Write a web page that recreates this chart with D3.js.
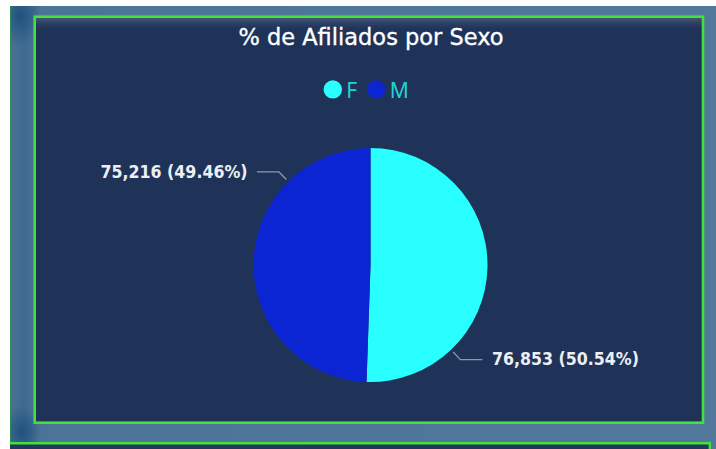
<!DOCTYPE html>
<html>
<head>
<meta charset="utf-8">
<script src="https://cdn.jsdelivr.net/npm/d3@7"></script>
<style>
html,body{margin:0;padding:0;background:#ffffff;}
svg{display:block;}
</style>
</head>
<body>
<svg id="chart" width="716" height="449"></svg>
<script>
// ---- data ----
const categories = ["F", "M"];
const values = [76853, 75216];
const sliceColors = ["#29ffff", "#0b25d3"];
const titleText = "% de Afiliados por Sexo";

// ---- layout ----
const W = 716, H = 449;
const svg = d3.select("#chart");
const defs = svg.append("defs");

defs.append("clipPath").attr("id", "outerClip")
  .append("rect").attr("x", 10).attr("y", 6).attr("width", W - 10).attr("height", H - 6);

// outer panel gradients
const lg = defs.append("linearGradient").attr("id", "outerH").attr("x1", 0).attr("x2", 1).attr("y1", 0).attr("y2", 0);
lg.append("stop").attr("offset", "0%").attr("stop-color", "#4a7294");
lg.append("stop").attr("offset", "2%").attr("stop-color", "#3f6a90");
lg.append("stop").attr("offset", "4%").attr("stop-color", "#4c7496");
lg.append("stop").attr("offset", "100%").attr("stop-color", "#52799b");

const rg1 = defs.append("radialGradient").attr("id", "darkTL").attr("cx", 0.5).attr("cy", 0.5).attr("r", 0.5);
rg1.append("stop").attr("offset", "0%").attr("stop-color", "#1d4f7e").attr("stop-opacity", 0.9);
rg1.append("stop").attr("offset", "100%").attr("stop-color", "#1d4f7e").attr("stop-opacity", 0);

const ig = defs.append("linearGradient").attr("id", "innerTop").attr("x1", 0).attr("x2", 0).attr("y1", 0).attr("y2", 1);
ig.append("stop").attr("offset", "0%").attr("stop-color", "#4a5a7c").attr("stop-opacity", 0.9);
ig.append("stop").attr("offset", "100%").attr("stop-color", "#1f3359").attr("stop-opacity", 0);

svg.append("rect").attr("x", 0).attr("y", 0).attr("width", W).attr("height", H).attr("fill", "#ffffff");
const outer = svg.append("g").attr("clip-path", "url(#outerClip)");
outer.append("rect").attr("x", 10).attr("y", 6).attr("width", W - 10).attr("height", H - 6).attr("fill", "url(#outerH)");
outer.append("ellipse").attr("cx", 20).attr("cy", 16).attr("rx", 22).attr("ry", 30).attr("fill", "url(#darkTL)");
outer.append("ellipse").attr("cx", 22).attr("cy", 432).attr("rx", 20).attr("ry", 26).attr("fill", "url(#darkTL)");
svg.append("line").attr("x1", 10.5).attr("x2", 10.5).attr("y1", 6).attr("y2", H).attr("stroke", "#2f8a52").attr("stroke-width", 1);

// bottom (next) panel
svg.append("rect").attr("x", 10).attr("y", 444).attr("width", 700).attr("height", 10).attr("fill", "#22375c");
svg.append("path").attr("d", "M10,443.3H709.8V449").attr("fill", "none").attr("stroke", "#44e03c").attr("stroke-width", 2.4);

// main panel
const panel = {x: 34.7, y: 16.7, w: 668.3, h: 406};
svg.append("rect").attr("x", panel.x).attr("y", panel.y).attr("width", panel.w).attr("height", panel.h).attr("fill", "#1f3359");
svg.append("rect").attr("x", panel.x + 1).attr("y", panel.y + 1).attr("width", panel.w - 2).attr("height", 14).attr("fill", "url(#innerTop)");
svg.append("rect").attr("x", panel.x).attr("y", panel.y).attr("width", panel.w).attr("height", panel.h)
  .attr("fill", "none").attr("stroke", "#44e03c").attr("stroke-width", 2.6);

// title
svg.append("text").attr("x", 371).attr("y", 44.5).attr("text-anchor", "middle")
  .attr("font-family", "'DejaVu Sans', sans-serif").attr("font-size", 22.5)
  .attr("fill", "#ffffff").attr("stroke", "#ffffff").attr("stroke-width", 0.35)
  .text(titleText);

// legend
const legend = svg.append("g");
let lx = 0;
categories.forEach((c, i) => {
  const g = legend.append("g").attr("transform", `translate(${lx},0)`);
  g.append("circle").attr("cx", 9).attr("cy", 0).attr("r", 9.2).attr("fill", sliceColors[i]);
  const t = g.append("text").attr("x", 22.5).attr("y", 8.3)
    .attr("font-family", "'Noto Sans', sans-serif").attr("font-size", 21)
    .attr("fill", "#22d3d3").text(c);
  lx += 22.5 + t.node().getComputedTextLength() + 10;
});
const legendW = lx - 10;
legend.attr("transform", `translate(${366.3 - legendW / 2},89.4)`);

// pie
const cx = 370.5, cy = 265, R = 117;
const total = d3.sum(values);
const pie = d3.pie().sort(null).value(d => d.value);
const arcs = pie(categories.map((c, i) => ({cat: c, value: values[i], color: sliceColors[i]})));
const arc = d3.arc().innerRadius(0).outerRadius(R);

const gPie = svg.append("g").attr("transform", `translate(${cx},${cy})`);
gPie.selectAll("path.slice").data(arcs).join("path").attr("class", "slice")
  .attr("d", arc).attr("fill", d => d.data.color);

const fmtN = d3.format(",");
const fmtP = d3.format(".2%");
arcs.forEach(d => {
  const a = d.startAngle + 0.75 * (d.endAngle - d.startAngle);
  const side = Math.sin(a) > 0 ? 1 : -1;
  const p1 = [(R + 3) * Math.sin(a), -(R + 3) * Math.cos(a)];
  const p2 = [(R + 13.5) * Math.sin(a), -(R + 13.5) * Math.cos(a)];
  const p3 = [p2[0] + side * 22, p2[1]];
  gPie.append("path").attr("d", `M${p1}L${p2}L${p3}`)
    .attr("fill", "none").attr("stroke", "#8d98a8").attr("stroke-width", 1.3);
  gPie.append("text").attr("x", p3[0] + side * 9.5).attr("y", p2[1] + 5.8)
    .attr("text-anchor", side > 0 ? "start" : "end")
    .attr("font-family", "'DejaVu Sans Condensed', 'DejaVu Sans', sans-serif")
    .attr("font-stretch", "condensed").attr("font-weight", "bold").attr("font-size", 17.6)
    .attr("fill", "#eceff4").text(`${fmtN(d.data.value)} (${fmtP(d.data.value / total)})`);
});
</script>
</body>
</html>
